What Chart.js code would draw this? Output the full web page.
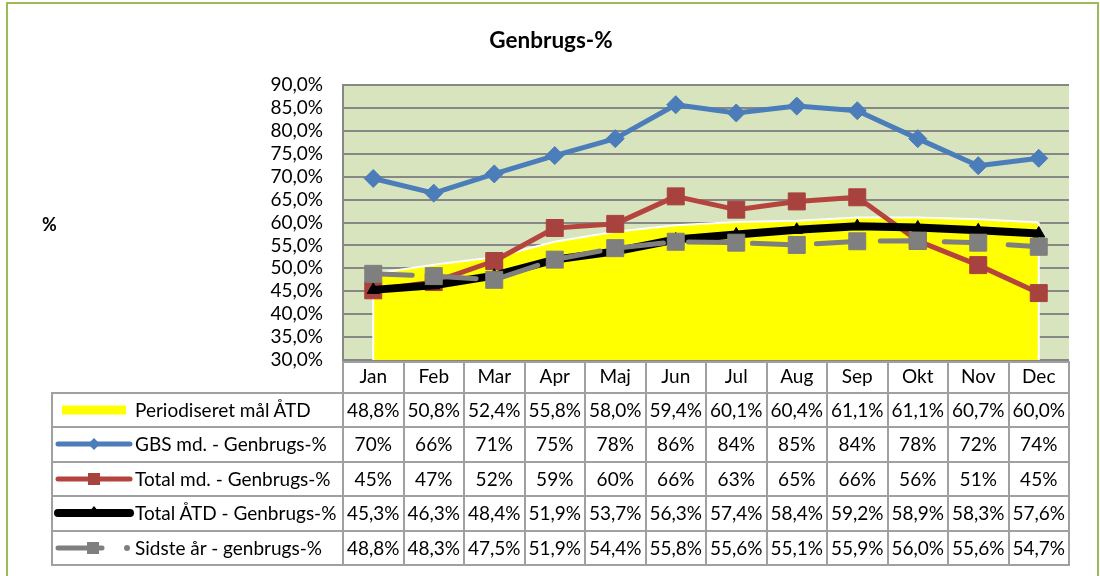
<!DOCTYPE html>
<html>
<head>
<meta charset="utf-8">
<script src="https://cdn.jsdelivr.net/npm/chart.js@4.4.1/dist/chart.umd.min.js"></script>
<style>
  html, body { margin:0; padding:0; background:#fff; }
  #wrap { position:relative; width:1100px; height:576px; overflow:hidden; background:#fff; font-family: Lato, "Liberation Sans", sans-serif; }
  #frame { position:absolute; left:6px; top:2px; width:1089px; height:620px; border:2px solid #9BBB59; }
  #c { position:absolute; left:0; top:0; }
  #title { position:absolute; left:0; width:1102px; top:26px; text-align:center; font-weight:bold; font-size:22.5px; color:#000; }
  #ylab { position:absolute; left:42px; top:213px; font-weight:bold; font-size:18px; color:#000; }
  .ln { position:absolute; background:#A0A0A0; }
  .cell { position:absolute; text-align:center; font-size:19px; color:#000; white-space:nowrap; }
  .leg { position:absolute; font-size:19px; color:#000; white-space:nowrap; }
  .sym { position:absolute; }
</style>
</head>
<body>
<div id="wrap">
  <div id="frame"></div>
  <canvas id="c" width="1100" height="576"></canvas>
  <div id="title">Genbrugs-%</div>
  <div id="ylab">%</div>
  <div id="tbl"></div>
</div>
<script>
// ---- data ----
const categories = ['Jan','Feb','Mar','Apr','Maj','Jun','Jul','Aug','Sep','Okt','Nov','Dec'];
const seriesNames = ['Periodiseret mål ÅTD','GBS md. - Genbrugs-%','Total md. - Genbrugs-%','Total ÅTD - Genbrugs-%','Sidste år - genbrugs-%'];
const periodiseretMaal = [48.8, 50.8, 52.4, 55.8, 58.0, 59.4, 60.1, 60.4, 61.1, 61.1, 60.7, 60.0];
const gbsMd            = [69.6, 66.4, 70.6, 74.6, 78.3, 85.7, 83.9, 85.4, 84.4, 78.3, 72.4, 74.0];
const totalMd          = [45.2, 47.0, 51.6, 58.8, 59.7, 65.7, 62.8, 64.6, 65.5, 56.0, 50.7, 44.6];
const totalAtd         = [45.3, 46.3, 48.4, 51.9, 53.7, 56.3, 57.4, 58.4, 59.2, 58.9, 58.3, 57.6];
const sidsteAar        = [48.8, 48.3, 47.5, 51.9, 54.4, 55.8, 55.6, 55.1, 55.9, 56.0, 55.6, 54.7];
const yMin = 30, yMax = 90, yStep = 5;
const seriesDecimals = [1, 0, 0, 1, 1];

const fmt = (v, d) => v.toFixed(d).replace('.', ',') + '%';

const FONT = 'Lato';
const GRID = '#878787';

const plotBg = {
  id: 'plotBg',
  beforeDraw(chart) {
    const {ctx, chartArea: a} = chart;
    ctx.save();
    ctx.fillStyle = '#D7E4BD';
    ctx.fillRect(a.left, a.top, a.right - a.left, a.bottom - a.top);
    ctx.restore();
  },
  afterDatasetDraw(chart, args) {
    if (args.index !== 0) return;
    const pts = args.meta.data;
    const {ctx, chartArea: a} = chart;
    ctx.save();
    ctx.strokeStyle = '#FFFFFF';
    ctx.lineWidth = 2;
    [pts[0], pts[pts.length - 1]].forEach(p => {
      ctx.beginPath();
      ctx.moveTo(p.x, p.y);
      ctx.lineTo(p.x, a.bottom);
      ctx.stroke();
    });
    ctx.restore();
  }
};

function build() {
  const ctx = document.getElementById('c').getContext('2d');
  const chart = new Chart(ctx, {
    type: 'line',
    data: {
      labels: categories,
      datasets: [
        { label: seriesNames[0], data: periodiseretMaal, fill: 'start', backgroundColor: '#FFFF00',
          borderColor: '#FFFFFF', borderWidth: 2, pointRadius: 0, order: 5 },
        { label: seriesNames[1], data: gbsMd, borderColor: '#4A7DBA', backgroundColor: '#4A7DBA', borderWidth: 5,
          pointStyle: 'rectRot', pointRadius: 9, pointBorderWidth: 1, borderJoinStyle: 'round', order: 4 },
        { label: seriesNames[2], data: totalMd, borderColor: '#B5443F', backgroundColor: '#A8423E', pointBorderColor: '#A8423E', borderWidth: 5,
          pointStyle: 'rect', pointRadius: 12, pointBorderWidth: 1, borderJoinStyle: 'round', order: 3 },
        { label: seriesNames[3], data: totalAtd, borderColor: '#000000', backgroundColor: '#000000', borderWidth: 8,
          pointStyle: 'triangle', pointRadius: 7, pointBorderWidth: 1, borderJoinStyle: 'round', order: 2 },
        { label: seriesNames[4], data: sidsteAar, borderColor: '#7F7F7F', backgroundColor: '#7F7F7F', borderWidth: 5,
          borderDash: [39, 25], borderCapStyle: 'round', pointStyle: 'rect', pointRadius: 12, pointBorderWidth: 1, order: 1 }
      ]
    },
    options: {
      responsive: false, animation: false, devicePixelRatio: 1,
      layout: { padding: { left: 0, top: 85, right: 31, bottom: 181 } },
      plugins: { legend: { display: false }, tooltip: { enabled: false }, title: { display: false } },
      scales: {
        x: {
          offset: true,
          grid: { display: false, drawTicks: false },
          border: { display: false },
          ticks: { font: { family: FONT, size: 19 }, color: '#000', padding: 5, maxRotation: 0, autoSkip: false },
          afterFit(s) { s.height = 35; }
        },
        y: {
          min: yMin, max: yMax,
          ticks: { stepSize: yStep, autoSkip: false, callback: v => fmt(v, 1), font: { family: FONT, size: 19 }, color: '#000', padding: 20 },
          grid: { color: GRID, lineWidth: 2, drawTicks: false },
          border: { display: true, color: GRID, width: 2 },
          afterFit(s) { s.width = 343; }
        }
      }
    },
    plugins: [plotBg]
  });

  // ---- data table, positioned from the chart's x scale ----
  const xs = chart.scales.x;
  const a = chart.chartArea;
  const tbl = document.getElementById('tbl');
  const half = (xs.getPixelForValue(1) - xs.getPixelForValue(0)) / 2;
  const colEdges = categories.map((_, i) => xs.getPixelForValue(i) - half);
  colEdges.push(xs.getPixelForValue(categories.length - 1) + half);
  const legLeft = 51;
  const headTop = a.bottom + 1;
  const rowTop0 = 393;
  const rowH = 34.4;
  const rows = [periodiseretMaal, gbsMd, totalMd, totalAtd, sidsteAar];
  const tableBottom = rowTop0 + rowH * rows.length;
  const add = (cls, style, text) => {
    const d = document.createElement('div');
    d.className = cls;
    Object.assign(d.style, style);
    if (text !== undefined) d.textContent = text;
    tbl.appendChild(d);
    return d;
  };
  const L = 2;
  add('ln', { left: colEdges[0] + 'px', top: headTop + 'px', width: (colEdges[12] - colEdges[0]) + 'px', height: L + 'px' });
  colEdges.forEach(x => add('ln', { left: (x - 1) + 'px', top: headTop + 'px', width: L + 'px', height: (tableBottom - headTop + 1) + 'px' }));
  add('ln', { left: legLeft + 'px', top: rowTop0 + 'px', width: L + 'px', height: (tableBottom - rowTop0 + 1) + 'px' });
  for (let r = 0; r <= rows.length; r++) {
    const y = rowTop0 + rowH * r;
    add('ln', { left: legLeft + 'px', top: (y - 1) + 'px', width: (colEdges[12] - legLeft + 1) + 'px', height: L + 'px' });
  }
  rows.forEach((arr, r) => {
    const top = rowTop0 + rowH * r;
    arr.forEach((v, i) => {
      add('cell', { left: colEdges[i] + 'px', width: (colEdges[i + 1] - colEdges[i]) + 'px', top: (top + 4) + 'px', lineHeight: '26px' }, fmt(v, seriesDecimals[r]));
    });
    add('leg', { left: '135px', top: (top + 4) + 'px', lineHeight: '26px' }, seriesNames[r]);
  });
  const ns = 'http://www.w3.org/2000/svg';
  const symbols = [
    '<rect x="14" y="12.5" width="64" height="9" fill="#FFFF00"/>',
    '<line x1="10" y1="17" x2="82" y2="17" stroke="#4A7DBA" stroke-width="5" stroke-linecap="round"/><polygon points="46,11 52,17 46,23 40,17" fill="#4A7DBA"/>',
    '<line x1="10" y1="17" x2="82" y2="17" stroke="#B5443F" stroke-width="5" stroke-linecap="round"/><rect x="40" y="11" width="12" height="12" fill="#A8423E"/>',
    '<line x1="10" y1="17" x2="82" y2="17" stroke="#000" stroke-width="8" stroke-linecap="round"/><polygon points="46,10 51,16 41,16" fill="#000"/>',
    '<line x1="10" y1="17" x2="54" y2="17" stroke="#7F7F7F" stroke-width="5" stroke-linecap="round"/><rect x="39" y="11" width="12" height="12" fill="#7F7F7F"/><circle cx="79" cy="17" r="3" fill="#7F7F7F"/>'
  ];
  symbols.forEach((s, r) => {
    const top = rowTop0 + rowH * r;
    const d = add('sym', { left: '48px', top: top + 'px', width: '90px', height: '34px' });
    d.innerHTML = '<svg xmlns="' + ns + '" width="90" height="34">' + s + '</svg>';
  });
}

(document.fonts && document.fonts.load ? Promise.all([document.fonts.load('19px Lato'), document.fonts.load('bold 22px Lato')]) : Promise.resolve())
  .then(build, build);
</script>
</body>
</html>
